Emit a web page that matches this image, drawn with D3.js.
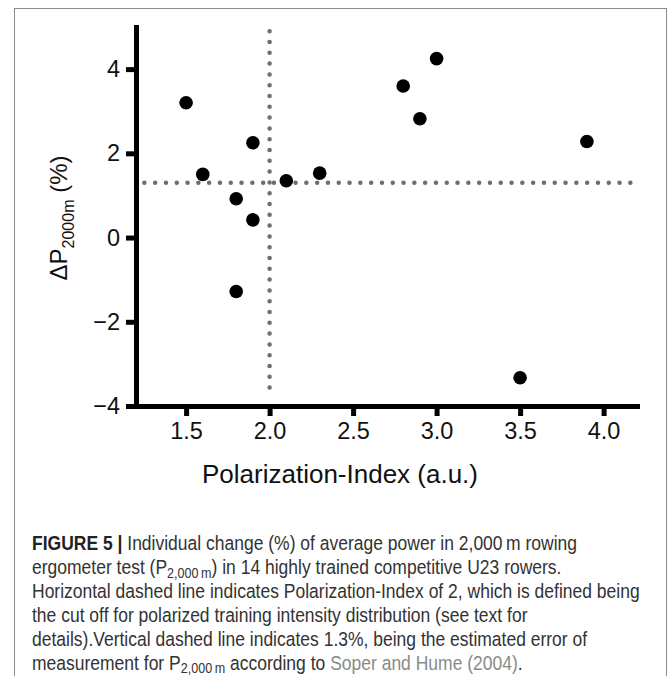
<!DOCTYPE html>
<html><head><meta charset="utf-8">
<script src="https://cdn.jsdelivr.net/npm/d3@7"></script>
<style>body{margin:0;background:#fff}svg{display:block}</style>
</head><body><svg id="c" width="669" height="676"></svg>
<script>
// ---- data ----
const polarizationIndex = [1.5, 1.6, 1.8, 1.8, 1.9, 1.9, 2.1, 2.3, 2.8, 2.9, 3.0, 3.5, 3.9];
const deltaP2000 = [3.2, 1.5, 0.92, -1.28, 2.25, 0.42, 1.35, 1.53, 3.6, 2.82, 4.25, -3.33, 2.28];
const xTicks = [1.5, 2.0, 2.5, 3.0, 3.5, 4.0];
const yTicks = [-4, -2, 0, 2, 4];
const xDomain = [1.2, 4.2];
const yDomain = [-4, 5];
const polarizationCutoff = 2;      // vertical dotted line (x)
const cutoffYRange = [-3.75, 4.9];
const measurementError = 1.3;      // horizontal dotted line (y)
const errorXRange = [1.25, 4.17];
const xTitle = "Polarization-Index (a.u.)";
const captionLines = [
  [{t:"FIGURE 5 | ", b:true}, {t:"Individual change (%) of average power in 2,000\u2009m rowing"}],
  [{t:"ergometer test (P"}, {t:"2,000\u2009m", sub:true}, {t:") in 14 highly trained competitive U23 rowers."}],
  [{t:"Horizontal dashed line indicates Polarization-Index of 2, which is defined being"}],
  [{t:"the cut off for polarized training intensity distribution (see text for"}],
  [{t:"details).Vertical dashed line indicates 1.3%, being the estimated error of"}],
  [{t:"measurement for P"}, {t:"2,000\u2009m", sub:true}, {t:" according to "}, {t:"Soper and Hume (2004)", link:true}, {t:"."}]
];

const svg = d3.select("#c");
const FONT = "'Liberation Sans', Arial, Helvetica, sans-serif";

// frame
svg.append("rect").attr("x", 14.5).attr("y", 8.5).attr("width", 652).attr("height", 700)
  .attr("fill", "none").attr("stroke", "#8c8c8c").attr("stroke-width", 1);

const x = d3.scaleLinear().domain(xDomain).range([136, 637]);
const y = d3.scaleLinear().domain(yDomain).range([406, 27]);

const dotStyle = sel => sel.attr("stroke", "#6e6e6e").attr("stroke-width", 4.5)
  .attr("stroke-linecap", "round").attr("stroke-dasharray", "0 10.8").attr("fill", "none");

// reference lines
svg.append("line").attr("x1", x(errorXRange[0])).attr("x2", x(errorXRange[1]))
  .attr("y1", y(measurementError)).attr("y2", y(measurementError)).call(dotStyle);
svg.append("line").attr("x1", x(polarizationCutoff)).attr("x2", x(polarizationCutoff))
  .attr("y1", y(cutoffYRange[1])).attr("y2", y(cutoffYRange[0])).call(dotStyle);

// axes
const xAxis = d3.axisBottom(x).tickValues(xTicks).tickFormat(d3.format(".1f"))
  .tickSizeInner(10).tickSizeOuter(0).tickPadding(6);
const yAxis = d3.axisLeft(y).tickValues(yTicks).tickFormat(d3.format("d"))
  .tickSizeInner(10).tickSizeOuter(0).tickPadding(6);

const gx = svg.append("g").attr("transform", `translate(0,${y(yDomain[0])})`).call(xAxis);
const gy = svg.append("g").attr("transform", `translate(${x(xDomain[0])},0)`).call(yAxis);
[gx, gy].forEach(g => {
  g.select(".domain").attr("stroke", "#000").attr("stroke-width", 5).attr("stroke-linecap", "square");
  g.selectAll(".tick line").attr("stroke", "#000").attr("stroke-width", 5);
  g.selectAll(".tick text").attr("fill", "#111").style("font-family", FONT).style("font-size", "23.5px");
});

// points
svg.append("g").selectAll("circle").data(polarizationIndex.map((v, i) => [v, deltaP2000[i]]))
  .join("circle").attr("cx", d => x(d[0])).attr("cy", d => y(d[1])).attr("r", 6.8).attr("fill", "#000");

// axis titles
svg.append("text").attr("x", 340).attr("y", 483)
  .attr("text-anchor", "middle").style("font-family", FONT).style("font-size", "26px").attr("fill", "#111")
  .text(xTitle);

const yt = svg.append("text").attr("transform", `translate(67,218) rotate(-90)`)
  .attr("text-anchor", "middle").style("font-family", FONT).style("font-size", "24px").attr("fill", "#111");
yt.append("tspan").text("\u0394P");
yt.append("tspan").attr("dy", 7).style("font-size", "16px").text("2000m");
yt.append("tspan").attr("dy", -7).text(" (%)");

// caption
const capG = svg.append("g");
const baselines = [550, 574, 598, 622, 646, 669.5];
const capTexts = captionLines.map((segs, i) => {
  const t = capG.append("text").attr("x", 0).attr("y", 0)
    .style("font-family", FONT).style("font-size", "19.5px").attr("fill", "#333");
  segs.forEach((s, j) => {
    const ts = t.append("tspan").text(s.t);
    if (s.b) ts.attr("font-weight", "bold").attr("fill", "#222");
    if (s.link) ts.attr("fill", "#8a8a8a");
    if (s.sub) ts.style("font-size", "14px").attr("dy", 3.5);
    else if (j > 0 && segs[j - 1].sub) ts.attr("dy", -3.5);
  });
  return t;
});
const refW = capTexts[2].node().getComputedTextLength();
const k = 608 / refW;
capTexts.forEach((t, i) => t.attr("transform", `translate(32,${baselines[i]}) scale(${k},1)`));
</script>
</body></html>
